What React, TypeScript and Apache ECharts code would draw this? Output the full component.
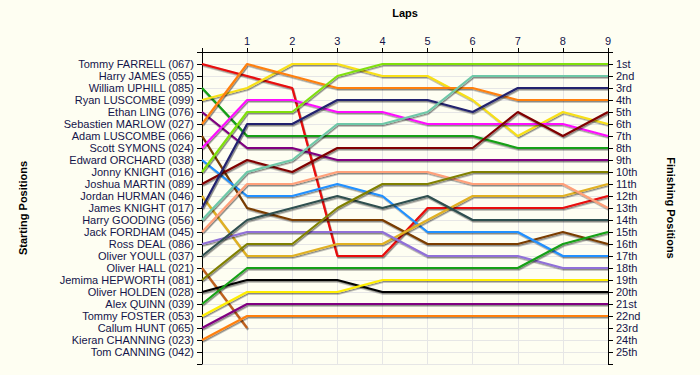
import React, { useEffect, useRef } from "react";
import * as echarts from "echarts";

const laps = [0, 1, 2, 3, 4, 5, 6, 7, 8, 9];
const lapLabels = ["", "1", "2", "3", "4", "5", "6", "7", "8", "9"];

const startNames = [
  "Tommy FARRELL (067)",
  "Harry JAMES (055)",
  "William UPHILL (085)",
  "Ryan LUSCOMBE (099)",
  "Ethan LING (076)",
  "Sebastien MARLOW (027)",
  "Adam LUSCOMBE (066)",
  "Scott SYMONS (024)",
  "Edward ORCHARD (038)",
  "Jonny KNIGHT (016)",
  "Joshua MARTIN (089)",
  "Jordan HURMAN (046)",
  "James KNIGHT (017)",
  "Harry GOODING (056)",
  "Jack FORDHAM (045)",
  "Ross DEAL (086)",
  "Oliver YOULL (037)",
  "Oliver HALL (021)",
  "Jemima HEPWORTH (081)",
  "Oliver HOLDEN (028)",
  "Alex QUINN (039)",
  "Tommy FOSTER (053)",
  "Callum HUNT (065)",
  "Kieran CHANNING (023)",
  "Tom CANNING (042)",
];

const finishLabels = [
  "1st", "2nd", "3rd", "4th", "5th", "6th", "7th", "8th", "9th", "10th",
  "11th", "12th", "13th", "14th", "15th", "16th", "17th", "18th", "19th", "20th",
  "21st", "22nd", "23rd", "24th", "25th",
];

// position per lap (lap 0 = start)
const farrell = [1, 2, 3, 17, 17, 13, 13, 13, 13, 12];
const james: number[] = [];
const uphill = [3, 7, 7, 7, 7, 7, 7, 8, 8, 8];
const rLuscombe = [4, 3, 1, 1, 2, 2, 4, 7, 5, 6];
const ling = [5, 8, 8, 9, 9, 9, 9, 9, 9, 9];
const marlow = [6, 1, 2, 3, 3, 3, 3, 4, 4, 4];
const aLuscombe = [7, 13, 14, 14, 14, 16, 16, 16, 15, 16];
const symons = [8, 4, 4, 5, 5, 6, 6, 6, 6, 7];
const orchard = [9, 12, 12, 11, 12, 15, 15, 15, 17, 17];
const jonnyKnight = [10, 5, 5, 2, 1, 1, 1, 1, 1, 1];
const martin = [11, 9, 10, 8, 8, 8, 8, 5, 7, 5];
const hurman = [12, 17, 17, 16, 16, 14, 12, 12, 12, 11];
const jamesKnight = [13, 6, 6, 4, 4, 4, 5, 3, 3, 3];
const gooding = [14, 10, 9, 6, 6, 5, 2, 2, 2, 2];
const fordham = [15, 11, 11, 10, 10, 10, 11, 11, 11, 13];
const deal = [16, 15, 15, 15, 15, 17, 17, 17, 18, 18];
const youll = [17, 14, 13, 12, 13, 12, 14, 14, 14, 14];
const hall = [18, 23];
const hepworth = [19, 16, 16, 13, 11, 11, 10, 10, 10, 10];
const holden = [20, 19, 19, 19, 20, 20, 20, 20, 20, 20];
const quinn = [21, 18, 18, 18, 18, 18, 18, 18, 16, 15];
const foster = [22, 20, 20, 20, 19, 19, 19, 19, 19, 19];
const hunt = [23, 21, 21, 21, 21, 21, 21, 21, 21, 21];
const channing = [24, 22, 22, 22, 22, 22, 22, 22, 22, 22];
const canning: number[] = [];

const driverPositions = [
  farrell, james, uphill, rLuscombe, ling, marlow, aLuscombe, symons, orchard,
  jonnyKnight, martin, hurman, jamesKnight, gooding, fordham, deal, youll, hall,
  hepworth, holden, quinn, foster, hunt, channing, canning,
];

const driverColors = [
  "#e80808", "#ff8000", "#14a014", "#f8e018", "#800080", "#ff8010", "#7a3c00",
  "#ff10ff", "#2090ff", "#80e010", "#800000", "#e0b020", "#20206e", "#6ec8a8",
  "#ffa07a", "#9070d8", "#2f4f4f", "#c0601e", "#808000", "#000000", "#14a014",
  "#ffee00", "#800080", "#ff8010", "#888888",
];

const textColor = "#14144a";
const font = "'Liberation Sans', Arial, sans-serif";

export default function App() {
  const ref = useRef<HTMLDivElement>(null);
  useEffect(() => {
    if (!ref.current) return;
    const chart = echarts.init(ref.current, null, { renderer: "svg" });
    const series = driverPositions.map((pos, i) => ({
      name: startNames[i],
      type: "line" as const,
      symbol: "none",
      data: pos.map((p, lap) => [laps[lap], p]),
      lineStyle: {
        color: driverColors[i],
        width: 2.2,
        shadowColor: "rgba(0,0,0,0.45)",
        shadowBlur: 1,
        shadowOffsetX: 1,
        shadowOffsetY: 1.5,
      },
      itemStyle: { color: driverColors[i] },
      z: 3,
    }));
    const yBase = {
      type: "value" as const,
      min: 0,
      max: 26,
      interval: 1,
      inverse: true,
      nameLocation: "middle" as const,
      nameTextStyle: { fontFamily: font, fontSize: 11, fontWeight: "bold", color: "#000" },
      axisLine: { show: true, lineStyle: { color: "#000", width: 1 } },
      axisTick: { show: true, length: 5, lineStyle: { color: "#000" } },
    };
    chart.setOption({
      animation: false,
      backgroundColor: "#fefef2",
      grid: { left: 202, right: 92, top: 52, bottom: 11, containLabel: false },
      xAxis: {
        type: "value",
        position: "top",
        min: 0,
        max: 9,
        interval: 1,
        name: "Laps",
        nameLocation: "middle",
        nameGap: 34,
        nameTextStyle: { fontFamily: font, fontSize: 11, fontWeight: "bold", color: "#000" },
        axisLine: { show: true, lineStyle: { color: "#000", width: 1 } },
        axisTick: { show: true, length: 4, lineStyle: { color: "#000" } },
        axisLabel: {
          margin: 6,
          fontFamily: font,
          fontSize: 11,
          color: textColor,
          formatter: (v: number) => lapLabels[Math.round(v)] ?? "",
        },
        splitLine: { show: true, lineStyle: { color: "#e6e6e6", width: 1 } },
      },
      yAxis: [
        {
          ...yBase,
          position: "left",
          name: "Starting Positions",
          nameGap: 174,
          axisLabel: {
            margin: 8,
            fontFamily: font,
            fontSize: 11,
            color: textColor,
            formatter: (v: number) => startNames[Math.round(v) - 1] ?? "",
          },
          splitLine: { show: true, lineStyle: { color: "#e6e6e6", width: 1 } },
        },
        {
          ...yBase,
          position: "right",
          name: "Finishing Positions",
          nameGap: 57,
          nameRotate: -90,
          axisLabel: {
            margin: 8,
            fontFamily: font,
            fontSize: 11,
            color: textColor,
            formatter: (v: number) => finishLabels[Math.round(v) - 1] ?? "",
          },
          splitLine: { show: false },
        },
      ],
      series,
    });
    return () => chart.dispose();
  }, []);
  return (
    <div
      ref={ref}
      style={{ position: "absolute", left: 0, top: 0, width: 700, height: 375 }}
    />
  );
}
